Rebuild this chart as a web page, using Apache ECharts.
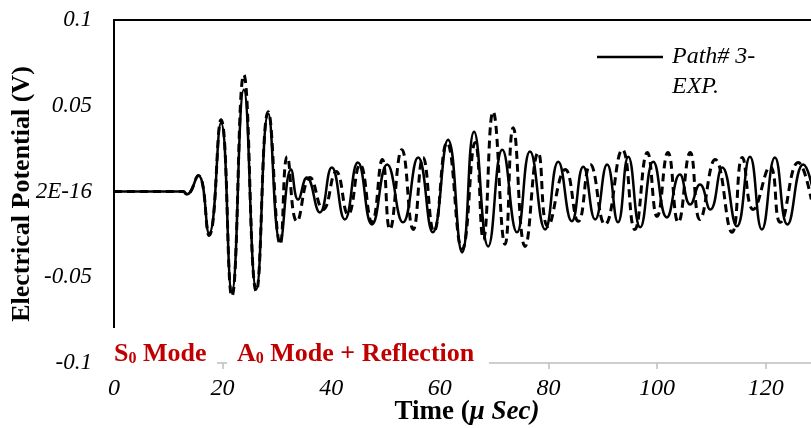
<!DOCTYPE html>
<html><head><meta charset="utf-8">
<script src="https://cdn.jsdelivr.net/npm/echarts@6/dist/echarts.min.js"></script>
<style>html,body{margin:0;padding:0;background:#fff}#c{width:811px;height:428px}</style>
</head><body><div id="c"></div>
<script>
// Solid series (Path# 3 - EXP.) : time (µs), potential (V) read at turning points
var solidT = [0,12.7,13.4,15.5,17.5,19.7,21.7,23.9,26.2,28.4,30.6,32.6,33.9,35.5,37.9,40.1,42.5,44.9,47.5,50.3,53.2,56.0,58.7,61.5,64.1,66.3,68.9,71.5,74.2,76.6,79.4,81.8,84.3,86.4,88.6,90.8,92.8,94.7,96.9,99.3,101.8,104.2,106.1,107.9,109.8,112.0,114.7,117.1,119.3,121.7,124.0,126.9,129.1];
var solidV = [0,0,-0.0017,0.0093,-0.0244,0.0401,-0.0587,0.0593,-0.0570,0.0453,-0.0291,0.0128,-0.0047,0.0081,-0.0122,0.0140,-0.0163,0.0169,-0.0192,0.0157,-0.0180,0.0198,-0.0238,0.0302,-0.0355,0.0349,-0.0320,0.0244,-0.0238,0.0233,-0.0221,0.0174,-0.0174,0.0145,-0.0163,0.0157,-0.0180,0.0203,-0.0209,0.0174,-0.0151,0.0099,-0.0076,0.0041,-0.0105,0.0140,-0.0203,0.0203,-0.0221,0.0198,-0.0192,0.0157,-0.0047];
// Dashed series
var dashT = [0,12.7,13.4,15.5,17.5,19.7,21.7,23.9,26.2,28.4,30.6,31.9,33.7,36.1,38.5,40.9,43.1,45.3,47.5,49.4,50.8,53.0,55.1,56.9,58.9,61.3,64.1,66.5,68.0,69.8,72.0,73.5,75.7,78.1,79.9,83.1,85.5,87.7,90.4,93.6,95.9,98.2,100.0,102.0,103.9,106.1,107.9,110.7,113.8,115.7,117.7,120.8,122.7,126.0,128.4];
var dashV = [0,0,-0.0017,0.0093,-0.0256,0.0419,-0.0610,0.0680,-0.0581,0.0465,-0.0308,0.0203,-0.0174,0.0081,-0.0105,0.0116,-0.0134,0.0157,-0.0180,0.0186,-0.0221,0.0244,-0.0221,0.0198,-0.0233,0.0285,-0.0337,0.0285,-0.0279,0.0465,-0.0308,0.0372,-0.0320,0.0227,-0.0203,0.0128,-0.0174,0.0157,-0.0192,0.0244,-0.0221,0.0227,-0.0145,0.0227,-0.0180,0.0227,-0.0163,0.0186,-0.0238,0.0198,-0.0105,0.0145,-0.0180,0.0169,-0.0047];
var yTickLabels = {'-0.1':'-0.1','-0.05':'-0.05','0':'2E-16','0.05':'0.05','0.1':'0.1'};
var xTickLabels = ['0','20','40','60','80','100','120'];
var legendName = 'Path# 3-';
var legendName2 = 'EXP.';
var yTitle = 'Electrical Potential (V)';
var xTitleA = 'Time (', xTitleB = 'μ Sec)';

function pairs(t, v){ return t.map(function(x,i){return [x, v[i]];}); }
var serif = '"Liberation Serif","Times New Roman",serif';
var chart = echarts.init(document.getElementById('c'), null, {renderer:'canvas'});
chart.setOption({
  animation:false,
  backgroundColor:'#fff',
  grid:{left:114, top:20, right:-9, bottom:65, containLabel:false, outerBoundsMode:'none'},
  legend:{
    data:[legendName], left:597, top:45, padding:0, itemWidth:66, itemHeight:14, itemGap:0,
    icon:'path://M0,0 L66,0 L66,2.5 L0,2.5 Z',
    textStyle:{fontFamily:serif, fontStyle:'italic', fontSize:24, color:'#000', padding:[0,0,0,4]},
    itemStyle:{color:'#000'}
  },
  xAxis:[{
    type:'value', min:0, max:130, interval:20, position:'bottom',
    axisLine:{show:true, onZero:false, lineStyle:{color:'#bfbfbf', width:1.5}},
    axisTick:{show:true, length:6, lineStyle:{color:'#bfbfbf', width:1.5}},
    splitLine:{show:false},
    axisLabel:{margin:14, fontFamily:serif, fontStyle:'italic', fontSize:24, color:'#000',
      formatter:function(v){ var i = Math.round(v/20); return (v%20===0 && xTickLabels[i]!==undefined)? xTickLabels[i] : ''; }}
  },{
    type:'value', min:0, max:130, position:'top',
    axisLine:{show:true, onZero:false, lineStyle:{color:'#000', width:2}},
    axisTick:{show:false}, axisLabel:{show:false}, splitLine:{show:false}
  }],
  yAxis:{
    type:'value', min:-0.1, max:0.1, interval:0.05,
    axisLine:{show:true, onZero:false, lineStyle:{color:'#000', width:2}},
    axisTick:{show:false}, splitLine:{show:false},
    axisLabel:{margin:22, fontFamily:serif, fontStyle:'italic', fontSize:23, color:'#000',
      formatter:function(v){ var k = String(Math.round(v*100)/100); return yTickLabels[k]!==undefined? yTickLabels[k] : k; }}
  },
  series:[{
    name:legendName, type:'line', data:pairs(solidT, solidV), showSymbol:false, symbol:'none',
    smooth:0.5, lineStyle:{color:'#000', width:2.5}, z:3
  },{
    name:'dashed', type:'line', data:pairs(dashT, dashV), showSymbol:false, symbol:'none',
    smooth:0.5, lineStyle:{color:'#000', width:3, type:[8,5]}, z:2
  }],
  graphic:[
    {type:'text', left:672, top:75, z:100, style:{text:legendName2, fontFamily:serif, fontStyle:'italic', fontSize:24, fill:'#000'}},
    {type:'text', x:22, y:194, rotation:Math.PI/2, z:100, style:{text:yTitle, fontFamily:serif, fontWeight:'bold', fontSize:26, fill:'#000', align:'center', verticalAlign:'middle'}},
    {type:'text', x:467, y:412, z:100, style:{
      text:'{a|'+xTitleA+'}{b|'+xTitleB+'}', align:'center', verticalAlign:'middle', rich:{
        a:{fontFamily:serif, fontWeight:'bold', fontSize:27, fill:'#000'},
        b:{fontFamily:serif, fontWeight:'bold', fontStyle:'italic', fontSize:27, fill:'#000'}}}},
    {type:'rect', shape:{x:106, y:328, width:111, height:44}, style:{fill:'#fff'}, z:100},
    {type:'rect', shape:{x:227, y:328, width:262, height:44}, style:{fill:'#fff'}, z:100},
    {type:'text', x:114, y:341, z:101, style:{
      text:'{r|S}{s|0}{r| Mode}', rich:{
        r:{fontFamily:serif, fontWeight:'bold', fontSize:26, fill:'#c00000', verticalAlign:'bottom'},
        s:{fontFamily:serif, fontWeight:'bold', fontSize:16, fill:'#c00000', verticalAlign:'bottom'}}}},
    {type:'text', x:237, y:341, z:101, style:{
      text:'{r|A}{s|0}{r| Mode + Reflection}', rich:{
        r:{fontFamily:serif, fontWeight:'bold', fontSize:26, fill:'#c00000', verticalAlign:'bottom'},
        s:{fontFamily:serif, fontWeight:'bold', fontSize:16, fill:'#c00000', verticalAlign:'bottom'}}}}
  ]
});
</script></body></html>
